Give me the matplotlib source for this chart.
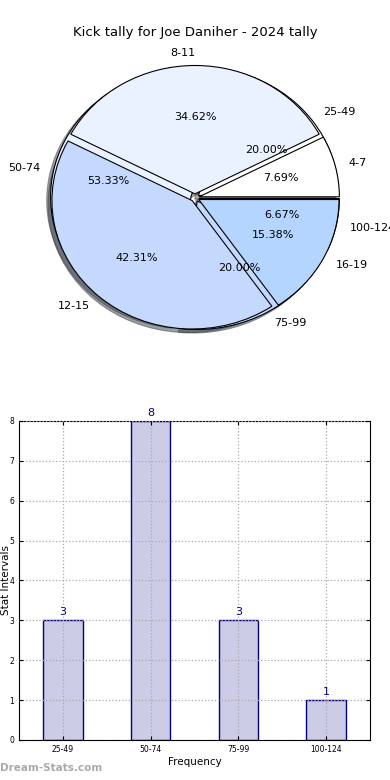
import matplotlib
matplotlib.use("Agg")
import matplotlib.pyplot as plt

# distance bins (outer pie + bar chart)
dist_labels = ["25-49", "50-74", "75-99", "100-124"]
dist_counts = [3, 8, 3, 1]

# kick count bins (pie drawn on top)
kick_labels = ["4-7", "8-11", "12-15", "16-19"]
kick_counts = [2, 9, 11, 4]

pie_colors = ["#ffffff", "#ebf2ff", "#c5d9ff", "#b4d5ff"]
bar_color = "#ccccE6"
edge_navy = "#000080"

fig = plt.figure(figsize=(3.9, 7.8), dpi=100)
fig.suptitle("Kick tally for Joe Daniher - 2024 tally", y=0.967, fontsize=9.5)

# pie section
ax1 = fig.add_axes([0.036, 0.535, 0.928, 0.423])
explode = [0.03] * 4
ax1.pie(dist_counts, labels=dist_labels, colors=pie_colors, explode=explode,
        autopct="%1.2f%%", pctdistance=0.6, labeldistance=1.1, shadow=True,
        startangle=0, textprops={"fontsize": 8},
        wedgeprops={"edgecolor": "black", "linewidth": 0.8})
ax1.pie(kick_counts, labels=kick_labels, colors=pie_colors, explode=explode,
        autopct="%1.2f%%", pctdistance=0.6, labeldistance=1.1, shadow=True,
        startangle=0, textprops={"fontsize": 8},
        wedgeprops={"edgecolor": "black", "linewidth": 0.8})
ax1.set_aspect("auto")
ax1.set_xlim(-1.29, 1.29)
ax1.set_ylim(-1.285, 1.285)

# bar section
ax2 = fig.add_axes([0.0487, 0.0513, 0.9, 0.409])
x = list(range(len(dist_labels)))
ax2.bar(x, dist_counts, width=0.45, color=bar_color, edgecolor=edge_navy, linewidth=1.0)
for xi, v in zip(x, dist_counts):
    ax2.text(xi, v + 0.08, str(v), ha="center", va="bottom", color=edge_navy, fontsize=8)
ax2.set_xlim(-0.5, 3.5)
ax2.set_ylim(0, 8)
ax2.set_xticks(x)
ax2.set_xticklabels(dist_labels)
ax2.set_yticks(range(0, 9))
ax2.tick_params(labelsize=5.5, direction="in", top=True, right=True, length=3)
ax2.grid(True, linestyle=":", color="#aaaaaa", linewidth=0.9)
ax2.set_axisbelow(False)
ax2.set_xlabel("Frequency", fontsize=7.5, labelpad=2)
ax2.set_ylabel("Stat Intervals", fontsize=7.5)
ax2.yaxis.set_label_coords(-0.024, 0.5)

fig.text(0.0, 0.012, "Dream-Stats.com", color="#aaaaaa", fontsize=7.5, fontweight="bold")

fig.savefig("out.png", dpi=100)
